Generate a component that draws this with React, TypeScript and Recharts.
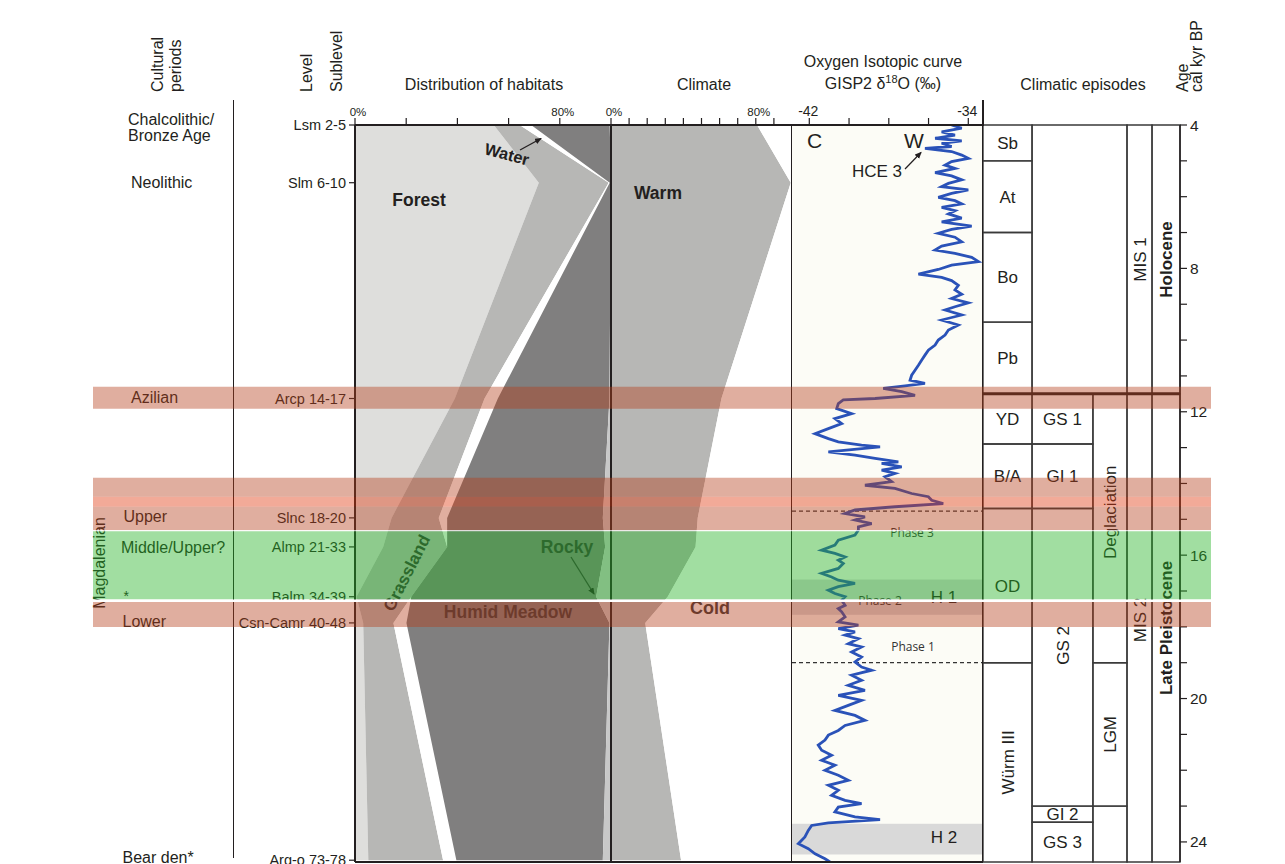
import React from "react";
import {
  ComposedChart,
  Area,
  Line,
  XAxis,
  YAxis,
  ReferenceArea,
  ReferenceLine,
} from "recharts";

const FONT = '"Liberation Sans", Arial, Helvetica, sans-serif';
const PHASE_FONT = '"Open Sans", "Noto Sans", sans-serif';
const INK = "#231f20";

const AGE_MIN = 4;
const AGE_MAX = 24.56;
const ISO_MIN = -42.87;
const ISO_MAX = -33.26;

// stratigraphic levels (position on the age scale, cal kyr BP)
const levelNames = ["Lsm 2-5", "Slm 6-10", "Arcp 14-17", "Slnc 18-20", "Almp 21-33", "Balm 34-39", "Csn-Camr 40-48", "Arg-o 73-78"];
const levelAges = [4.0, 5.61, 11.63, 14.96, 15.77, 17.16, 17.89, 24.51];

// distribution of habitats (%)
const forest = [54.2, 71.8, 39.0, 14.3, 11.0, 0.6, 3.2, 5.2];
const grassland = [10.1, 27.3, 11.6, 18.4, 25.0, 21.4, 11.8, 29.2];
const water = [4.5, 0.4, 5.2, 3.3, 0, 0, 5.1, 5.2];
const humidMeadow = [30.7, 0.5, 43.6, 60.8, 61.7, 72.2, 79.3, 57.2];
const rocky = [0.5, 0, 0.6, 3.2, 2.3, 5.8, 0.6, 3.2];

// climate (%)
const warm = [80.7, 99.3, 61.0, 47.9, 46.7, 31.3, 18.9, 38.7];
const cold = [19.3, 0.7, 39.0, 52.1, 53.3, 68.7, 81.1, 61.3];

// GISP2 d18O
const isoAge = [
  4.0, 4.09, 4.19, 4.28, 4.37, 4.44, 4.51, 4.6, 4.65, 4.74, 4.84, 4.93, 5.02, 5.12, 5.21, 5.33, 5.42, 5.53, 5.63, 5.72,
  5.81, 5.91, 6.02, 6.11, 6.2, 6.3, 6.39, 6.48, 6.6, 6.7, 6.82, 6.91, 7.02, 7.13, 7.26, 7.38, 7.49, 7.58, 7.69, 7.81,
  7.91, 8.03, 8.16, 8.25, 8.34, 8.47, 8.6, 8.72, 8.84, 8.96, 9.07, 9.16, 9.3, 9.44, 9.58, 9.72, 9.86, 10.0, 10.14, 10.28,
  10.42, 10.56, 10.7, 10.84, 10.98, 11.12, 11.21, 11.28, 11.35, 11.44, 11.54, 11.63, 11.67, 11.77, 11.91, 12.05, 12.19,
  12.33, 12.47, 12.61, 12.75, 12.84, 12.93, 12.98, 13.12, 13.21, 13.3, 13.4, 13.44, 13.54, 13.63, 13.72, 13.81, 13.95,
  14.05, 14.14, 14.28, 14.37, 14.47, 14.56, 14.65, 14.74, 14.84, 14.93, 15.02, 15.12, 15.21, 15.3, 15.44, 15.58, 15.72,
  15.86, 15.95, 16.05, 16.14, 16.23, 16.37, 16.51, 16.61, 16.7, 16.79, 16.88, 16.98, 17.07, 17.16, 17.26, 17.4, 17.49,
  17.58, 17.72, 17.86, 17.95, 18.05, 18.14, 18.23, 18.33, 18.47, 18.56, 18.7, 18.84, 18.98, 19.12, 19.21, 19.35, 19.49,
  19.63, 19.77, 19.91, 20.05, 20.19, 20.33, 20.47, 20.61, 20.75, 20.89, 21.02, 21.16, 21.3, 21.44, 21.58, 21.72, 21.86,
  22.0, 22.14, 22.28, 22.42, 22.56, 22.7, 22.84, 22.93, 23.03, 23.16, 23.3, 23.38, 23.47, 23.54, 23.68, 23.86, 24.05,
  24.19, 24.33, 24.47, 24.56,
];
const isoD18O = [
  -34.84, -34.33, -35.34, -34.67, -35.67, -34.33, -35.34, -34.84, -36.18, -34.84, -34.33, -34.0, -34.84, -35.17, -34.67,
  -35.67, -34.84, -34.33, -35.0, -35.34, -34.0, -34.84, -35.51, -34.67, -34.33, -35.34, -34.67, -35.0, -34.33, -35.34,
  -33.83, -34.84, -35.51, -34.67, -34.33, -35.34, -35.67, -34.67, -33.83, -33.49, -34.84, -35.51, -36.51, -35.34, -34.84,
  -34.5, -34.67, -34.33, -34.84, -34.0, -34.67, -35.17, -34.33, -35.34, -34.5, -35.0, -35.17, -35.51, -35.67, -36.01,
  -36.18, -36.35, -36.51, -36.68, -36.85, -36.93, -36.18, -37.18, -38.28, -37.35, -36.68, -38.69, -40.29, -40.54, -40.62,
  -39.87, -40.71, -40.37, -41.04, -41.71, -41.04, -40.54, -39.37, -38.44, -41.04, -39.7, -38.69, -37.52, -38.36, -37.35,
  -38.36, -37.69, -38.19, -37.86, -39.2, -37.69, -36.85, -36.01, -35.84, -35.26, -37.69, -39.7, -40.2, -39.2, -39.7,
  -38.86, -39.53, -39.53, -39.7, -40.54, -40.71, -41.38, -40.71, -40.2, -40.54, -40.29, -40.54, -41.38, -40.88, -40.54,
  -39.7, -40.54, -41.04, -40.71, -40.2, -40.37, -40.2, -40.54, -40.37, -40.2, -40.54, -39.53, -40.54, -39.7, -40.2,
  -39.53, -40.04, -39.37, -39.87, -39.37, -39.7, -39.37, -38.86, -39.87, -39.37, -40.04, -39.2, -40.54, -39.37, -40.04,
  -40.71, -39.7, -39.2, -40.2, -40.54, -41.04, -41.21, -41.55, -41.38, -40.88, -41.38, -40.71, -41.21, -40.54, -40.04,
  -41.04, -40.54, -40.88, -40.2, -39.37, -40.54, -40.71, -39.7, -38.44, -41.04, -41.88, -42.05, -42.22, -42.55, -42.05,
  -41.71, -41.21, -40.96,
];
const isoTicks = [-42, -40, -38, -36, -34];
const heinrich = [
  { name: "H 1", from: 16.68, to: 17.66 },
  { name: "H 2", from: 23.49, to: 24.35 },
];
const phaseLimits = [14.77, 19.0];

// climatic episodes: label, first column, last column, from, to, vertical, bold, label lift
const episodeColumnEdges = [0, 24.9, 55.8, 73.1, 85.8, 100];
const episodes: [string, number, number, number, number, boolean, boolean, number][] = [
  ["Sb", 0, 1, 4, 5, false, false, 0],
  ["At", 0, 1, 5, 7, false, false, 0],
  ["Bo", 0, 1, 7, 9.5, false, false, 0],
  ["Pb", 0, 1, 9.5, 11.5, false, false, 0],
  ["YD", 0, 1, 11.5, 12.9, false, false, 0],
  ["B/A", 0, 1, 12.9, 14.7, false, false, 0],
  ["OD", 0, 1, 14.7, 19.0, false, false, 0],
  ["Würm III", 0, 1, 19.0, AGE_MAX, true, false, 0],
  ["", 1, 3, 4, 11.5, false, false, 0],
  ["GS 1", 1, 2, 11.5, 12.9, false, false, 0],
  ["GI 1", 1, 2, 12.9, 14.7, false, false, 0],
  ["GS 2", 1, 2, 14.7, 23.0, true, false, 12],
  ["GI 2", 1, 2, 23.0, 23.45, false, false, 0],
  ["GS 3", 1, 2, 23.45, AGE_MAX, false, false, 0],
  ["Deglaciation", 2, 3, 11.5, 19.0, true, false, 16],
  ["LGM", 2, 3, 19.0, 23.0, true, false, 0],
  ["", 2, 3, 23.0, AGE_MAX, false, false, 0],
  ["MIS 1", 3, 4, 4, 11.5, true, false, 0],
  ["MIS 2", 3, 4, 11.5, AGE_MAX, true, false, 8],
  ["Holocene", 4, 5, 4, 11.5, true, true, 0],
  ["Late Pleistocene", 4, 5, 11.5, AGE_MAX, true, true, 0],
];
const holoceneLimit = 11.5;
const ageTicks = [4, 5, 6, 7, 8, 9, 10, 11, 12, 13, 14, 15, 16, 17, 18, 19, 20, 21, 22, 23, 24];

// archaeological bands across the figure
const bandFrom = [11.304, 13.844, 14.374, 14.653, 15.303, 15.331, 17.238, 17.305];
const bandTo = [11.918, 14.374, 14.653, 15.303, 15.331, 17.238, 17.305, 18.003];
const bandFill = ["#b53f1b", "#b53f1b", "#e0340a", "#b53f1b", "#ffffff", "#24b324", "#ffffff", "#b53f1b"];
const bandOpacity = [0.42, 0.42, 0.42, 0.42, 1, 0.43, 1, 0.42];
const bandSpan = [93, 1211];

const habitatRows = levelAges.map((age, i) => ({
  age,
  forest: forest[i],
  grassland: grassland[i],
  water: water[i],
  meadow: humidMeadow[i],
  rocky: rocky[i],
  warm: warm[i],
  cold: cold[i],
}));
const isoRows = isoAge.map((age, i) => ({ age, d18o: isoD18O[i] }));

const pctLabel = (v: number) => (v === 0 || v === 80 ? `${v}%` : "");
const levelLabel = (v: number) => levelNames[levelAges.indexOf(v)] ?? "";

const topAxis = {
  type: "number" as const,
  orientation: "top" as const,
  allowDataOverflow: true,
  height: 20,
  interval: 0 as const,
  tickSize: 7,
  tickMargin: 2,
  axisLine: { stroke: INK, strokeWidth: 2 },
  tickLine: { stroke: INK, strokeWidth: 1.2 },
};

type TxtProps = {
  x: number;
  y: number;
  children: React.ReactNode;
  size?: number;
  bold?: boolean;
  anchor?: "start" | "middle" | "end";
  rotate?: number;
  central?: boolean;
  family?: string;
  fill?: string;
};

function Txt({ x, y, children, size = 16, bold, anchor = "start", rotate, central, family = FONT, fill = INK }: TxtProps) {
  return (
    <text
      x={x}
      y={y}
      fontSize={size}
      fontWeight={bold ? 700 : 400}
      textAnchor={anchor}
      dominantBaseline={central ? "central" : "auto"}
      fontFamily={family}
      fill={fill}
      transform={rotate ? `rotate(${rotate} ${x} ${y})` : undefined}
    >
      {children}
    </text>
  );
}

function Labels() {
  return (
    <svg width={1285} height={864} style={{ position: "absolute", left: 0, top: 0 }}>
      <defs>
        <marker id="arrow" markerWidth="8" markerHeight="8" refX="6" refY="3" orient="auto" markerUnits="userSpaceOnUse">
          <path d="M0,0 L7,3 L0,6 z" fill={INK} />
        </marker>
      </defs>
      <line x1={233.5} y1={100} x2={233.5} y2={858} stroke={INK} strokeWidth={1} />
      <line x1={983} y1={100} x2={983} y2={126} stroke={INK} strokeWidth={2} />

      {/* column headers */}
      <Txt x={163} y={92} rotate={-90}>Cultural</Txt>
      <Txt x={181} y={92} rotate={-90}>periods</Txt>
      <Txt x={312} y={92} rotate={-90}>Level</Txt>
      <Txt x={341.5} y={92} rotate={-90}>Sublevel</Txt>
      <Txt x={484} y={84} anchor="middle" central>Distribution of habitats</Txt>
      <Txt x={704} y={84} anchor="middle" central>Climate</Txt>
      <Txt x={883} y={61} anchor="middle" central>Oxygen Isotopic curve</Txt>
      <text x={883} y={89} fontSize={16} textAnchor="middle" fontFamily={FONT} fill={INK}>
        GISP2 δ<tspan dy={-6} fontSize={11}>18</tspan>
        <tspan dy={6}>O (‰)</tspan>
      </text>
      <Txt x={1083} y={84} anchor="middle" central>Climatic episodes</Txt>
      <Txt x={1188} y={92} rotate={-90}>Age</Txt>
      <Txt x={1202} y={92} rotate={-90}>cal kyr BP</Txt>

      {/* cultural periods */}
      <Txt x={128} y={125}>Chalcolithic/</Txt>
      <Txt x={128} y={141}>Bronze Age</Txt>
      <Txt x={131} y={187.5}>Neolithic</Txt>
      <Txt x={131} y={403}>Azilian</Txt>
      <Txt x={123.5} y={521.5}>Upper</Txt>
      <Txt x={121} y={553}>Middle/Upper?</Txt>
      <Txt x={123.5} y={601} size={14}>*</Txt>
      <Txt x={122.5} y={627}>Lower</Txt>
      <Txt x={122.5} y={863}>Bear den*</Txt>
      <Txt x={99.5} y={563} rotate={-90} anchor="middle" central>Magdalenian</Txt>

      {/* habitat and climate annotations */}
      <Txt x={419} y={200} size={17.5} bold anchor="middle" central>Forest</Txt>
      <Txt x={507} y={154} size={16.5} bold anchor="middle" central rotate={15}>Water</Txt>
      <line x1={520} y1={150} x2={541} y2={138.5} stroke={INK} strokeWidth={1.3} markerEnd="url(#arrow)" />
      <Txt x={658} y={193} size={17.5} bold anchor="middle" central>Warm</Txt>
      <Txt x={407} y={573} size={17} bold anchor="middle" central rotate={-63} fill="#333">Grassland</Txt>
      <Txt x={567} y={547} size={17.5} bold anchor="middle" central fill="#333">Rocky</Txt>
      <line x1={571} y1={557} x2={594} y2={594} stroke="#333" strokeWidth={1.3} markerEnd="url(#arrow)" />
      <Txt x={508} y={612} size={17.5} bold anchor="middle" central fill="#3a3a3a">Humid Meadow</Txt>
      <Txt x={710} y={608} size={18} bold anchor="middle" central fill="#3a3a3a">Cold</Txt>

      {/* isotope annotations */}
      <Txt x={814.5} y={140} size={21} anchor="middle" central>C</Txt>
      <Txt x={914} y={140} size={21} anchor="middle" central>W</Txt>
      <Txt x={877} y={171} size={17} anchor="middle" central>HCE 3</Txt>
      <line x1={905} y1={169} x2={921} y2={152.5} stroke={INK} strokeWidth={1.2} markerEnd="url(#arrow)" />
      <Txt x={912} y={532} size={12} anchor="middle" central family={PHASE_FONT} fill="#333">Phase 3</Txt>
      <Txt x={880} y={600} size={12} anchor="middle" central family={PHASE_FONT} fill="#333">Phase 2</Txt>
      <Txt x={913} y={646} size={12} anchor="middle" central family={PHASE_FONT} fill="#333">Phase 1</Txt>
      <Txt x={944} y={597} size={17} anchor="middle" central>{heinrich[0].name}</Txt>
      <Txt x={944} y={837} size={17} anchor="middle" central>{heinrich[1].name}</Txt>
    </svg>
  );
}

export default function App() {
  return (
    <div
      style={{
        position: "absolute",
        left: 0,
        top: 0,
        width: 1285,
        height: 864,
        overflow: "hidden",
        background: "#fff",
        fontFamily: FONT,
      }}
    >
      {/* distribution of habitats */}
      <div style={{ position: "absolute", left: 200, top: 0 }}>
        <ComposedChart width={411} height={864} layout="vertical" data={habitatRows} margin={{ top: 105, right: 0, bottom: 2, left: 0 }}>
          <XAxis
            {...topAxis}
            domain={[0, 100]}
            ticks={[0, 20, 40, 60, 80]}
            tickFormatter={pctLabel}
            tick={{ fontSize: 11.5, fill: INK, fontFamily: FONT, dx: 3 }}
          />
          <YAxis
            type="number"
            dataKey="age"
            domain={[AGE_MIN, AGE_MAX]}
            allowDataOverflow
            width={155}
            ticks={levelAges}
            interval={0}
            tickFormatter={levelLabel}
            tickSize={6}
            tickMargin={3}
            axisLine={{ stroke: INK, strokeWidth: 2 }}
            tickLine={{ stroke: INK, strokeWidth: 1.2 }}
            tick={{ fontSize: 14.5, fill: INK, fontFamily: FONT }}
          />
          <Area type="linear" dataKey="forest" stackId="h" stroke="none" fill="#dededc" fillOpacity={1} isAnimationActive={false} />
          <Area type="linear" dataKey="grassland" stackId="h" stroke="none" fill="#b7b7b5" fillOpacity={1} isAnimationActive={false} />
          <Area type="linear" dataKey="water" stackId="h" stroke="none" fill="#ffffff" fillOpacity={1} isAnimationActive={false} />
          <Area type="linear" dataKey="meadow" stackId="h" stroke="none" fill="#807f7f" fillOpacity={1} isAnimationActive={false} />
          <Area type="linear" dataKey="rocky" stackId="h" stroke="none" fill="#c8c8c8" fillOpacity={1} isAnimationActive={false} />
          <ReferenceLine y={AGE_MAX} stroke={INK} strokeWidth={2} />
        </ComposedChart>
      </div>

      {/* climate */}
      <div style={{ position: "absolute", left: 571, top: 0 }}>
        <ComposedChart width={221} height={864} layout="vertical" data={habitatRows} margin={{ top: 105, right: 0, bottom: 2, left: 40 }}>
          <XAxis
            {...topAxis}
            domain={[0, 100]}
            ticks={[0, 10, 20, 30, 40, 50, 60, 70, 80, 90]}
            tickFormatter={pctLabel}
            tick={{ fontSize: 11.5, fill: INK, fontFamily: FONT, dx: 3 }}
          />
          <YAxis type="number" dataKey="age" hide domain={[AGE_MIN, AGE_MAX]} allowDataOverflow />
          <Area type="linear" dataKey="warm" stackId="c" stroke="none" fill="#b7b7b5" fillOpacity={1} isAnimationActive={false} />
          <Area type="linear" dataKey="cold" stackId="c" stroke="none" fill="#ffffff" fillOpacity={1} isAnimationActive={false} />
          <ReferenceLine x={0} stroke={INK} strokeWidth={2} />
          <ReferenceLine x={100} stroke={INK} strokeWidth={2} />
          <ReferenceLine y={AGE_MAX} stroke={INK} strokeWidth={2} />
        </ComposedChart>
      </div>

      {/* oxygen isotope curve */}
      <div style={{ position: "absolute", left: 792, top: 0 }}>
        <ComposedChart width={191} height={864} layout="vertical" data={isoRows} margin={{ top: 105, right: 0, bottom: 2, left: 0 }}>
          <XAxis
            {...topAxis}
            domain={[ISO_MIN, ISO_MAX]}
            ticks={isoTicks}
            tickFormatter={(v: number) => (v === -42 || v === -34 ? String(v) : "")}
            tick={{ fontSize: 14, fill: INK, fontFamily: FONT, dx: -1 }}
          />
          <YAxis type="number" dataKey="age" hide domain={[AGE_MIN, AGE_MAX]} allowDataOverflow />
          <ReferenceArea x1={ISO_MIN} x2={ISO_MAX} y1={AGE_MIN} y2={AGE_MAX} fill="#fcfcf6" fillOpacity={1} stroke="none" />
          {heinrich.map((h) => (
            <ReferenceArea key={h.name} x1={ISO_MIN} x2={ISO_MAX} y1={h.from} y2={h.to} fill="#d9d9d9" fillOpacity={1} stroke="none" />
          ))}
          {phaseLimits.map((p) => (
            <ReferenceLine key={p} y={p} stroke="#333" strokeWidth={1.3} strokeDasharray="4 3" />
          ))}
          <Line type="linear" dataKey="d18o" stroke="#2a52b8" strokeWidth={2.8} dot={false} isAnimationActive={false} />
          <ReferenceLine x={ISO_MAX} stroke={INK} strokeWidth={2} />
          <ReferenceLine y={AGE_MAX} stroke={INK} strokeWidth={2} />
        </ComposedChart>
      </div>

      {/* climatic episodes and age axis */}
      <div style={{ position: "absolute", left: 983, top: 0 }}>
        <ComposedChart width={257} height={864} layout="vertical" data={isoRows} margin={{ top: 125, right: 0, bottom: 2, left: 0 }}>
          <XAxis type="number" hide domain={[0, 100]} allowDataOverflow />
          <YAxis
            type="number"
            dataKey="age"
            orientation="right"
            domain={[AGE_MIN, AGE_MAX]}
            allowDataOverflow
            ticks={ageTicks}
            interval={0}
            width={60}
            tickSize={7}
            tickMargin={3}
            tickFormatter={(v: number) => (v % 4 === 0 ? String(v) : "")}
            axisLine={{ stroke: INK, strokeWidth: 1.5 }}
            tickLine={{ stroke: INK, strokeWidth: 1.2 }}
            tick={{ fontSize: 15.5, fill: INK, fontFamily: FONT }}
          />
          {episodes.map(([name, c0, c1, from, to, vertical, bold, lift], i) => (
            <ReferenceArea
              key={i}
              x1={episodeColumnEdges[c0]}
              x2={episodeColumnEdges[c1]}
              y1={from}
              y2={to}
              fill="#ffffff"
              fillOpacity={0}
              stroke="#3a3a3a"
              strokeWidth={1.4}
              label={
                name
                  ? {
                      value: name,
                      position: "center",
                      angle: vertical ? -90 : 0,
                      dy: -lift,
                      fontSize: 17,
                      fontWeight: bold ? 700 : 400,
                      fill: INK,
                      fontFamily: FONT,
                    }
                  : undefined
              }
            />
          ))}
          <ReferenceLine y={holoceneLimit} stroke={INK} strokeWidth={3} />
        </ComposedChart>
      </div>

      <Labels />

      {/* archaeological bands drawn over every panel */}
      <div style={{ position: "absolute", left: 0, top: 0, pointerEvents: "none" }}>
        <ComposedChart width={1285} height={864} layout="vertical" data={isoRows} margin={{ top: 125, right: 0, bottom: 2, left: 0 }}>
          <XAxis type="number" hide domain={[0, 1285]} allowDataOverflow />
          <YAxis type="number" dataKey="age" hide domain={[AGE_MIN, AGE_MAX]} allowDataOverflow />
          {bandFrom.map((from, i) => (
            <ReferenceArea
              key={i}
              x1={bandSpan[0]}
              x2={bandSpan[1]}
              y1={from}
              y2={bandTo[i]}
              fill={bandFill[i]}
              fillOpacity={bandOpacity[i]}
              stroke="none"
            />
          ))}
        </ComposedChart>
      </div>
    </div>
  );
}
